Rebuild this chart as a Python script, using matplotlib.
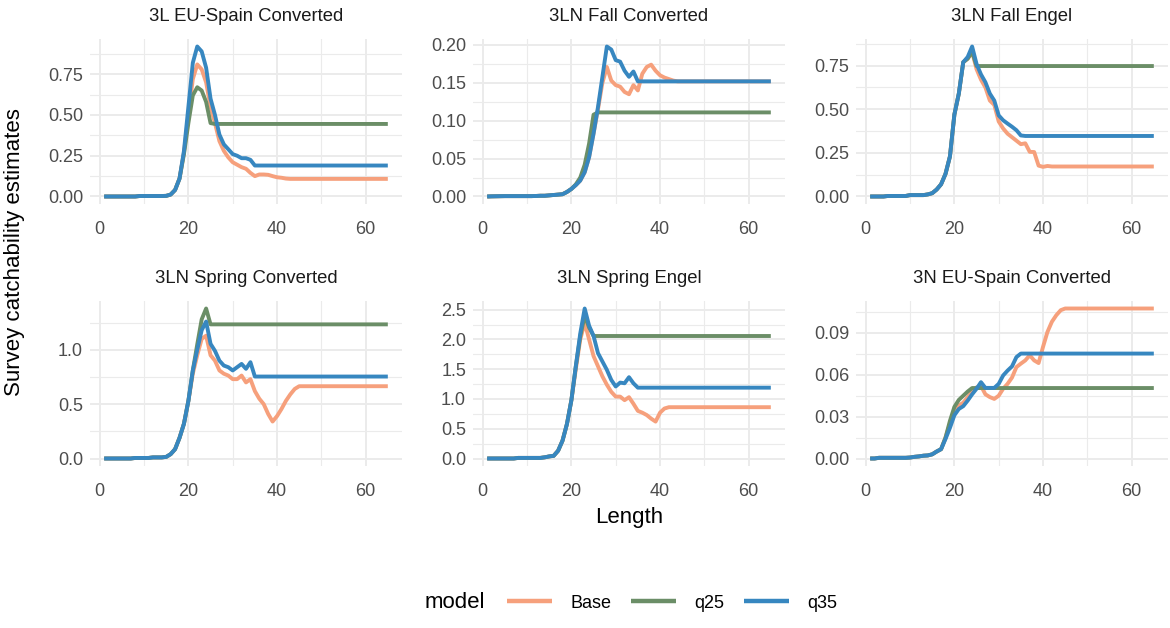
import matplotlib
matplotlib.use("Agg")
import matplotlib.pyplot as plt
from matplotlib.ticker import MultipleLocator, FormatStrFormatter, AutoMinorLocator
from matplotlib.lines import Line2D

plt.rcParams['font.family'] = ['Liberation Sans', 'DejaVu Sans']

length = list(range(1, 66))
models = ["Base", "q25", "q35"]
colors = {"Base": "#F6A07C", "q25": "#6B8E67", "q35": "#3787C0"}
panel_titles = ["3L EU-Spain Converted", "3LN Fall Converted", "3LN Fall Engel",
                "3LN Spring Converted", "3LN Spring Engel", "3N EU-Spain Converted"]

# ---------- 3L EU-Spain Converted ----------
p1_base = [0, 0, 0, 0, 0, 0, 0, 0, 0.003, 0.003, 0.003, 0.003, 0.003,
           0.003, 0.004, 0.012, 0.04, 0.11, 0.27, 0.50, 0.72, 0.81, 0.78, 0.70, 0.55, 0.45,
           0.34, 0.28, 0.24, 0.21, 0.195, 0.18, 0.17, 0.145, 0.125, 0.135, 0.135, 0.133, 0.125,
           0.118, 0.115, 0.11, 0.108, 0.108, 0.108, 0.108, 0.108, 0.108, 0.108, 0.108, 0.108, 0.108,
           0.108, 0.108, 0.108, 0.108, 0.108, 0.108, 0.108, 0.108, 0.108, 0.108, 0.108, 0.108, 0.108]
p1_q25 = [0, 0, 0, 0, 0, 0, 0, 0, 0.003, 0.003, 0.003, 0.003, 0.003,
          0.003, 0.004, 0.012, 0.04, 0.11, 0.26, 0.45, 0.62, 0.67, 0.65, 0.58, 0.45, 0.445,
          0.445, 0.445, 0.445, 0.445, 0.445, 0.445, 0.445, 0.445, 0.445, 0.445, 0.445, 0.445, 0.445,
          0.445, 0.445, 0.445, 0.445, 0.445, 0.445, 0.445, 0.445, 0.445, 0.445, 0.445, 0.445, 0.445,
          0.445, 0.445, 0.445, 0.445, 0.445, 0.445, 0.445, 0.445, 0.445, 0.445, 0.445, 0.445, 0.445]
p1_q35 = [0, 0, 0, 0, 0, 0, 0, 0, 0.003, 0.003, 0.003, 0.003, 0.003,
          0.003, 0.004, 0.012, 0.04, 0.11, 0.28, 0.55, 0.82, 0.92, 0.89, 0.79, 0.60, 0.50,
          0.38, 0.32, 0.29, 0.26, 0.25, 0.235, 0.235, 0.225, 0.19, 0.19, 0.19, 0.19, 0.19,
          0.19, 0.19, 0.19, 0.19, 0.19, 0.19, 0.19, 0.19, 0.19, 0.19, 0.19, 0.19, 0.19,
          0.19, 0.19, 0.19, 0.19, 0.19, 0.19, 0.19, 0.19, 0.19, 0.19, 0.19, 0.19, 0.19]

# ---------- 3LN Fall Converted ----------
p2_base = [0, 0.0002, 0.0003, 0.0004, 0.0005, 0.0005, 0.0005, 0.0005, 0.0005, 0.0005, 0.0005, 0.0007, 0.001,
           0.001, 0.0015, 0.002, 0.0025, 0.003, 0.006, 0.01, 0.015, 0.021, 0.032, 0.052, 0.083, 0.115,
           0.15, 0.171, 0.153, 0.147, 0.145, 0.138, 0.135, 0.147, 0.14, 0.162, 0.171, 0.174, 0.166,
           0.16, 0.157, 0.155, 0.153, 0.152, 0.152, 0.152, 0.152, 0.152, 0.152, 0.152, 0.152, 0.152,
           0.152, 0.152, 0.152, 0.152, 0.152, 0.152, 0.152, 0.152, 0.152, 0.152, 0.152, 0.152, 0.152]
p2_q25 = [0, 0.0002, 0.0003, 0.0004, 0.0005, 0.0005, 0.0005, 0.0005, 0.0005, 0.0005, 0.0005, 0.0007, 0.001,
          0.001, 0.0015, 0.002, 0.0025, 0.003, 0.006, 0.01, 0.016, 0.025, 0.042, 0.07, 0.108, 0.111,
          0.111, 0.111, 0.111, 0.111, 0.111, 0.111, 0.111, 0.111, 0.111, 0.111, 0.111, 0.111, 0.111,
          0.111, 0.111, 0.111, 0.111, 0.111, 0.111, 0.111, 0.111, 0.111, 0.111, 0.111, 0.111, 0.111,
          0.111, 0.111, 0.111, 0.111, 0.111, 0.111, 0.111, 0.111, 0.111, 0.111, 0.111, 0.111, 0.111]
p2_q35 = [0, 0.0002, 0.0003, 0.0004, 0.0005, 0.0005, 0.0005, 0.0005, 0.0005, 0.0005, 0.0005, 0.0007, 0.001,
          0.001, 0.0015, 0.002, 0.0025, 0.003, 0.006, 0.01, 0.015, 0.021, 0.032, 0.052, 0.083, 0.118,
          0.158, 0.198, 0.194, 0.18, 0.178, 0.166, 0.158, 0.165, 0.152, 0.152, 0.152, 0.152, 0.152,
          0.152, 0.152, 0.152, 0.152, 0.152, 0.152, 0.152, 0.152, 0.152, 0.152, 0.152, 0.152, 0.152,
          0.152, 0.152, 0.152, 0.152, 0.152, 0.152, 0.152, 0.152, 0.152, 0.152, 0.152, 0.152, 0.152]

# ---------- 3LN Fall Engel ----------
p3_base = [0, 0, 0, 0, 0.003, 0.003, 0.003, 0.003, 0.003, 0.008, 0.008, 0.008, 0.008,
           0.012, 0.019, 0.04, 0.07, 0.13, 0.23, 0.47, 0.59, 0.77, 0.79, 0.83, 0.73, 0.67,
           0.625, 0.55, 0.525, 0.43, 0.39, 0.36, 0.34, 0.32, 0.30, 0.305, 0.256, 0.255, 0.177,
           0.170, 0.175, 0.172, 0.172, 0.172, 0.172, 0.172, 0.172, 0.172, 0.172, 0.172, 0.172, 0.172,
           0.172, 0.172, 0.172, 0.172, 0.172, 0.172, 0.172, 0.172, 0.172, 0.172, 0.172, 0.172, 0.172]
p3_q25 = [0, 0, 0, 0, 0.003, 0.003, 0.003, 0.003, 0.003, 0.008, 0.008, 0.008, 0.008,
          0.012, 0.019, 0.04, 0.07, 0.13, 0.23, 0.47, 0.59, 0.77, 0.79, 0.83, 0.748, 0.748,
          0.748, 0.748, 0.748, 0.748, 0.748, 0.748, 0.748, 0.748, 0.748, 0.748, 0.748, 0.748, 0.748,
          0.748, 0.748, 0.748, 0.748, 0.748, 0.748, 0.748, 0.748, 0.748, 0.748, 0.748, 0.748, 0.748,
          0.748, 0.748, 0.748, 0.748, 0.748, 0.748, 0.748, 0.748, 0.748, 0.748, 0.748, 0.748, 0.748]
p3_q35 = [0, 0, 0, 0, 0.003, 0.003, 0.003, 0.003, 0.003, 0.008, 0.008, 0.008, 0.008,
          0.012, 0.019, 0.04, 0.07, 0.13, 0.23, 0.47, 0.59, 0.77, 0.80, 0.86, 0.76, 0.70,
          0.655, 0.59, 0.55, 0.465, 0.437, 0.418, 0.40, 0.38, 0.35, 0.347, 0.347, 0.347, 0.347,
          0.347, 0.347, 0.347, 0.347, 0.347, 0.347, 0.347, 0.347, 0.347, 0.347, 0.347, 0.347, 0.347,
          0.347, 0.347, 0.347, 0.347, 0.347, 0.347, 0.347, 0.347, 0.347, 0.347, 0.347, 0.347, 0.347]

# ---------- 3LN Spring Converted ----------
p4_base = [0, 0, 0, 0, 0, 0, 0, 0.005, 0.005, 0.005, 0.005, 0.01, 0.01,
           0.01, 0.015, 0.04, 0.086, 0.19, 0.32, 0.53, 0.78, 0.95, 1.10, 1.13, 0.95, 0.90,
           0.81, 0.78, 0.763, 0.73, 0.73, 0.763, 0.70, 0.73, 0.62, 0.55, 0.50, 0.41, 0.34,
           0.39, 0.455, 0.53, 0.59, 0.64, 0.665, 0.665, 0.665, 0.665, 0.665, 0.665, 0.665, 0.665,
           0.665, 0.665, 0.665, 0.665, 0.665, 0.665, 0.665, 0.665, 0.665, 0.665, 0.665, 0.665, 0.665]
p4_q25 = [0, 0, 0, 0, 0, 0, 0, 0.005, 0.005, 0.005, 0.005, 0.01, 0.01,
          0.01, 0.015, 0.04, 0.086, 0.19, 0.32, 0.53, 0.81, 1.05, 1.28, 1.38, 1.234, 1.234,
          1.234, 1.234, 1.234, 1.234, 1.234, 1.234, 1.234, 1.234, 1.234, 1.234, 1.234, 1.234, 1.234,
          1.234, 1.234, 1.234, 1.234, 1.234, 1.234, 1.234, 1.234, 1.234, 1.234, 1.234, 1.234, 1.234,
          1.234, 1.234, 1.234, 1.234, 1.234, 1.234, 1.234, 1.234, 1.234, 1.234, 1.234, 1.234, 1.234]
p4_q35 = [0, 0, 0, 0, 0, 0, 0, 0.005, 0.005, 0.005, 0.005, 0.01, 0.01,
          0.01, 0.015, 0.04, 0.086, 0.19, 0.32, 0.53, 0.81, 1.0, 1.18, 1.26, 1.055, 0.99,
          0.90, 0.855, 0.84, 0.81, 0.84, 0.87, 0.825, 0.886, 0.754, 0.754, 0.754, 0.754, 0.754,
          0.754, 0.754, 0.754, 0.754, 0.754, 0.754, 0.754, 0.754, 0.754, 0.754, 0.754, 0.754, 0.754,
          0.754, 0.754, 0.754, 0.754, 0.754, 0.754, 0.754, 0.754, 0.754, 0.754, 0.754, 0.754, 0.754]

# ---------- 3LN Spring Engel ----------
p5_base = [0, 0, 0, 0, 0, 0, 0, 0.01, 0.01, 0.01, 0.01, 0.01, 0.01,
           0.02, 0.035, 0.045, 0.13, 0.30, 0.58, 0.98, 1.50, 2.0, 2.28, 2.0, 1.72, 1.55,
           1.38, 1.24, 1.12, 1.04, 1.04, 0.98, 1.03, 0.92, 0.80, 0.77, 0.73, 0.67, 0.62,
           0.77, 0.84, 0.862, 0.862, 0.862, 0.862, 0.862, 0.862, 0.862, 0.862, 0.862, 0.862, 0.862,
           0.862, 0.862, 0.862, 0.862, 0.862, 0.862, 0.862, 0.862, 0.862, 0.862, 0.862, 0.862, 0.862]
p5_q25 = [0, 0, 0, 0, 0, 0, 0, 0.01, 0.01, 0.01, 0.01, 0.01, 0.01,
          0.02, 0.035, 0.045, 0.13, 0.30, 0.58, 0.98, 1.55, 2.05, 2.40, 2.2, 2.058, 2.058,
          2.058, 2.058, 2.058, 2.058, 2.058, 2.058, 2.058, 2.058, 2.058, 2.058, 2.058, 2.058, 2.058,
          2.058, 2.058, 2.058, 2.058, 2.058, 2.058, 2.058, 2.058, 2.058, 2.058, 2.058, 2.058, 2.058,
          2.058, 2.058, 2.058, 2.058, 2.058, 2.058, 2.058, 2.058, 2.058, 2.058, 2.058, 2.058, 2.058]
p5_q35 = [0, 0, 0, 0, 0, 0, 0, 0.01, 0.01, 0.01, 0.01, 0.01, 0.01,
          0.02, 0.035, 0.045, 0.13, 0.30, 0.58, 0.98, 1.55, 2.1, 2.52, 2.23, 2.06, 1.77,
          1.63, 1.49, 1.32, 1.21, 1.275, 1.264, 1.366, 1.264, 1.19, 1.19, 1.19, 1.19, 1.19,
          1.19, 1.19, 1.19, 1.19, 1.19, 1.19, 1.19, 1.19, 1.19, 1.19, 1.19, 1.19, 1.19,
          1.19, 1.19, 1.19, 1.19, 1.19, 1.19, 1.19, 1.19, 1.19, 1.19, 1.19, 1.19, 1.19]

# ---------- 3N EU-Spain Converted ----------
p6_base = [0, 0, 0.0005, 0.0005, 0.0005, 0.0005, 0.0005, 0.0005, 0.0005, 0.0007, 0.0012, 0.0015, 0.002,
           0.0022, 0.003, 0.005, 0.0067, 0.015, 0.025, 0.033, 0.038, 0.040, 0.044, 0.048, 0.051, 0.052,
           0.046, 0.044, 0.0427, 0.045, 0.050, 0.0535, 0.058, 0.0655, 0.068, 0.0703, 0.074, 0.0703, 0.0684,
           0.080, 0.0907, 0.098, 0.1027, 0.1063, 0.1075, 0.1075, 0.1075, 0.1075, 0.1075, 0.1075, 0.1075, 0.1075,
           0.1075, 0.1075, 0.1075, 0.1075, 0.1075, 0.1075, 0.1075, 0.1075, 0.1075, 0.1075, 0.1075, 0.1075, 0.1075]
p6_q25 = [0, 0, 0.0005, 0.0005, 0.0005, 0.0005, 0.0005, 0.0005, 0.0005, 0.0007, 0.0012, 0.0015, 0.002,
          0.0022, 0.003, 0.005, 0.0067, 0.015, 0.027, 0.037, 0.042, 0.045, 0.048, 0.0505, 0.0505, 0.0505,
          0.0505, 0.0505, 0.0505, 0.0505, 0.0505, 0.0505, 0.0505, 0.0505, 0.0505, 0.0505, 0.0505, 0.0505, 0.0505,
          0.0505, 0.0505, 0.0505, 0.0505, 0.0505, 0.0505, 0.0505, 0.0505, 0.0505, 0.0505, 0.0505, 0.0505, 0.0505,
          0.0505, 0.0505, 0.0505, 0.0505, 0.0505, 0.0505, 0.0505, 0.0505, 0.0505, 0.0505, 0.0505, 0.0505, 0.0505]
p6_q35 = [0, 0, 0.0005, 0.0005, 0.0005, 0.0005, 0.0005, 0.0005, 0.0005, 0.0007, 0.0012, 0.0015, 0.002,
          0.0022, 0.003, 0.005, 0.0067, 0.014, 0.022, 0.031, 0.0355, 0.0375, 0.0415, 0.046, 0.050, 0.0547,
          0.0506, 0.0506, 0.0506, 0.0535, 0.0595, 0.063, 0.066, 0.0727, 0.0752, 0.0752, 0.0752, 0.0752, 0.0752,
          0.0752, 0.0752, 0.0752, 0.0752, 0.0752, 0.0752, 0.0752, 0.0752, 0.0752, 0.0752, 0.0752, 0.0752, 0.0752,
          0.0752, 0.0752, 0.0752, 0.0752, 0.0752, 0.0752, 0.0752, 0.0752, 0.0752, 0.0752, 0.0752, 0.0752, 0.0752]

panel_series = [
    {"Base": p1_base, "q25": p1_q25, "q35": p1_q35},
    {"Base": p2_base, "q25": p2_q25, "q35": p2_q35},
    {"Base": p3_base, "q25": p3_q25, "q35": p3_q35},
    {"Base": p4_base, "q25": p4_q25, "q35": p4_q35},
    {"Base": p5_base, "q25": p5_q25, "q35": p5_q35},
    {"Base": p6_base, "q25": p6_q25, "q35": p6_q35},
]
y_steps = [0.25, 0.05, 0.25, 0.5, 0.5, 0.03]
y_fmts = ["%.2f", "%.2f", "%.2f", "%.1f", "%.1f", "%.2f"]

W, H = 1170, 628
fig = plt.figure(figsize=(W / 100, H / 100), dpi=100)
fig.patch.set_facecolor("white")

col_left = [90, 473, 856]
row_top = [39, 301]
pw, ph = 312, 165

grid_col = "#EBEBEB"
for i in range(6):
    r, c = divmod(i, 3)
    ax = fig.add_axes([col_left[c] / W, 1 - (row_top[r] + ph) / H, pw / W, ph / H])
    ax.set_facecolor("white")
    for s in ax.spines.values():
        s.set_visible(False)
    for m in models:
        ax.plot(length, panel_series[i][m], color=colors[m], lw=2.8,
                solid_capstyle="butt", solid_joinstyle="round", zorder=3)
    ax.margins(x=0.05, y=0.05)
    ax.xaxis.set_major_locator(MultipleLocator(20))
    ax.xaxis.set_minor_locator(MultipleLocator(10))
    ax.yaxis.set_major_locator(MultipleLocator(y_steps[i]))
    ax.yaxis.set_minor_locator(AutoMinorLocator(2))
    ax.yaxis.set_major_formatter(FormatStrFormatter(y_fmts[i]))
    ax.xaxis.set_major_formatter(FormatStrFormatter("%d"))
    ax.grid(which="major", color=grid_col, lw=1.4, zorder=0)
    ax.grid(which="minor", color=grid_col, lw=0.8, zorder=0)
    ax.set_axisbelow(True)
    ax.tick_params(which="both", length=0)
    ax.tick_params(axis="y", labelsize=13, labelcolor="#4D4D4D", pad=5)
    ax.tick_params(axis="x", labelsize=13, labelcolor="#4D4D4D", pad=12)
    ax.annotate(panel_titles[i], xy=(0.5, 1), xycoords="axes fraction",
                xytext=(0, 16), textcoords="offset points", ha="center", va="center",
                fontsize=13.3, color="#1A1A1A")

fig.text(15 / W, 1 - 252 / H, "Survey catchability estimates", rotation=90,
         ha="center", va="center", fontsize=16, color="black")
fig.text(629 / W, 1 - 518 / H, "Length", ha="center", va="center", fontsize=16, color="black")

fig.text(425 / W, 1 - 603 / H, "model", ha="left", va="center", fontsize=16, color="black")
handles = [Line2D([0], [0], color=colors[m], lw=3.2, solid_capstyle="butt") for m in models]
fig.legend(handles, models, loc="center left", bbox_to_anchor=(507 / W, 1 - 603 / H),
           ncol=3, frameon=False, fontsize=13, handlelength=2.5, handletextpad=1.0,
           columnspacing=1.1, borderpad=0, borderaxespad=0)

fig.savefig("out.png", dpi=100, facecolor="white")
